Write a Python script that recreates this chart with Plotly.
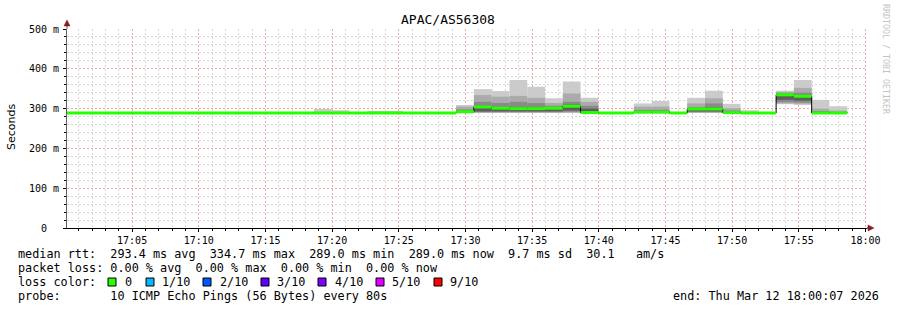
import plotly.graph_objects as go
from datetime import datetime, timedelta

# ---------------- data ----------------
title_text = "APAC/AS56308"
first_step = datetime(2026, 3, 12, 16, 59, 58)
step_seconds = 80
x_start = datetime(2026, 3, 12, 17, 0, 7)
x_end = datetime(2026, 3, 12, 18, 0, 7)

# median rtt per 80 s step (ms)
median = [289] * 22 + [292, 304, 301, 300, 300, 301, 306, 290, 289, 289, 291, 291, 289,
                       299, 299, 290, 289, 289, 334.7, 331, 289, 289]
# smoke envelope (sorted pings), outer -> inner
ping_max = [289] * 14 + [299, 296, 289, 293, 293, 289, 289, 289,
                         309, 349, 344, 372, 355, 326, 368, 327, 289, 289, 313, 319, 289,
                         327, 345, 312, 296, 289, 345, 372, 322, 306]
hi2 = [289] * 22 + [305, 334, 330, 332, 327, 314, 338, 317, 289, 289, 305, 305, 289,
                    313, 326, 301, 289, 289, 342, 352, 300, 295]
hi3 = [289] * 22 + [298, 317, 314, 317, 314, 307, 317, 307, 289, 289, 297, 297, 289,
                    303, 313, 295, 289, 289, 339, 340, 293, 291]
hi4 = [289] * 22 + [294, 306, 304, 304, 304, 303, 310, 300, 289, 289, 293, 293, 289,
                    302, 303, 292, 289, 289, 336, 333, 290, 290]
lo4 = [289] * 22 + [290, 293, 293, 293, 293, 293, 295, 289, 289, 289, 290, 290, 289,
                    293, 293, 289, 289, 289, 322, 320, 289, 289]
lo3 = [289] * 22 + [289, 291, 291, 291, 291, 291, 292, 289, 289, 289, 289, 289, 289,
                    291, 291, 289, 289, 289, 316, 315, 289, 289]
lo2 = [289] * 22 + [289, 290, 290, 290, 290, 290, 290, 289, 289, 289, 289, 289, 289,
                    290, 290, 289, 289, 289, 313, 312, 289, 289]
ping_min = [289] * 22 + [289] * 18 + [311, 309, 289, 289]

y_tick_vals = [0, 100, 200, 300, 400, 500]
y_tick_text = ["0\u00a0\u00a0", "100 m", "200 m", "300 m", "400 m", "500 m"]

stats_rows = [
    "median rtt:  293.4 ms avg  334.7 ms max  289.0 ms min  289.0 ms now  9.7 ms sd  30.1   am/s",
    "packet loss: 0.00 % avg  0.00 % max  0.00 % min  0.00 % now",
]
loss_labels = ["0", "1/10", "2/10", "3/10", "4/10", "5/10", "9/10"]
loss_colors = ["#26ff00", "#00b8ff", "#0059ff", "#5e00ff", "#7e00ff", "#dd00ff", "#ff0000"]
probe_text = "probe:       10 ICMP Echo Pings (56 Bytes) every 80s"
end_text = "end: Thu Mar 12 18:00:07 2026"

# ---------------- layout constants ----------------
W, H = 897, 310
L, R, T, B = 67, 30, 29, 82
PW, PH = W - L - R, H - T - B
MONO = "DejaVu Sans Mono"
LEG_SIZE = 11.8


def px(xp):
    return (xp - L) / PW


def py(yp):
    return (H - B - yp) / PH


def nb(s):
    return s.replace(" ", "\u00a0")


n = len(median)
starts = [first_step + timedelta(seconds=step_seconds * k) for k in range(n)]
centers = [s + timedelta(seconds=step_seconds / 2) for s in starts]
ends = [s + timedelta(seconds=step_seconds) for s in starts]

fig = go.Figure()

bands = [
    (ping_min, ping_max, "#cbcbcb"),
    (lo2, hi2, "#ababab"),
    (lo3, hi3, "#8a8a8a"),
    (lo4, hi4, "#5e5e5e"),
]
for lo, hi, col in bands:
    fig.add_trace(go.Bar(
        x=centers, base=lo, y=[h - l for h, l in zip(hi, lo)],
        width=step_seconds * 1000,
        marker=dict(color=col, line=dict(width=0)),
        hoverinfo="skip", showlegend=False,
    ))

# thin black median (step) line
bx, by = [], []
for s, e, m in zip(starts, ends, median):
    bx += [s, e]
    by += [m, m]
fig.add_trace(go.Scatter(x=bx, y=by, mode="lines", line=dict(color="#000000", width=1),
                         hoverinfo="skip", showlegend=False))

# loss-coloured median segments
gx, gy = [], []
for s, e, m in zip(starts, ends, median):
    gx += [s, e, None]
    gy += [m, m, None]
fig.add_trace(go.Scatter(x=gx, y=gy, mode="lines", line=dict(color="#26ff00", width=3),
                         hoverinfo="skip", showlegend=False))

# grid positions: minor every minute / 20 ms, excluding the major ones
hour0 = datetime(2026, 3, 12, 17, 0, 0)
x_minor = [hour0 + timedelta(minutes=i) for i in range(1, 61) if i % 5 != 0]
y_minor = [v for v in range(0, 501, 20) if v % 100 != 0]

major_col = "rgba(225,80,80,0.5)"
minor_col = "#d6d6d6"
gdash = "2px,2px"
fig.update_layout(
    width=W, height=H, margin=dict(l=L, r=R, t=T, b=B),
    paper_bgcolor="white", plot_bgcolor="white",
    barmode="overlay", showlegend=False,
    font=dict(family=MONO, size=10, color="#000000"),
)
fig.update_xaxes(
    type="date", range=[x_start, x_end], tickformat="%H:%M",
    tick0="2026-03-12 17:00:00", dtick=300000,
    showgrid=True, gridcolor=major_col, griddash=gdash, gridwidth=1,
    showline=True, linecolor="#000000", linewidth=1,
    ticks="outside", ticklen=3, tickcolor="#000000",
    tickfont=dict(family=MONO, size=10, color="#000000"),
    minor=dict(tickmode="array", tickvals=x_minor, showgrid=True,
               gridcolor=minor_col, griddash=gdash, ticks="outside", ticklen=2,
               tickcolor="#000000"),
    zeroline=False, fixedrange=True,
)
fig.update_yaxes(
    range=[0, 500], tickmode="array", tickvals=y_tick_vals, ticktext=y_tick_text,
    showgrid=True, gridcolor=major_col, griddash=gdash, gridwidth=1,
    showline=True, linecolor="#606060", linewidth=1,
    ticks="outside", ticklen=3, tickcolor="#000000",
    tickfont=dict(family=MONO, size=10, color="#000000"),
    minor=dict(tickmode="array", tickvals=y_minor, showgrid=True, gridcolor=minor_col,
               griddash=gdash, ticks="outside", ticklen=2, tickcolor="#000000"),
    zeroline=False, fixedrange=True, ticklabelstandoff=2,
)

ann = []
ann.append(dict(text=title_text, x=px(448), y=py(20), xref="paper", yref="paper",
                showarrow=False, xanchor="center", yanchor="middle",
                font=dict(family=MONO, size=13, color="#000000")))
ann.append(dict(text="Seconds", x=px(11), y=py(127), xref="paper", yref="paper",
                showarrow=False, textangle=-90, xanchor="center", yanchor="middle",
                font=dict(family="DejaVu Sans", size=11, color="#000000")))
ann.append(dict(text=nb("RRDTOOL / TOBI OETIKER"), x=px(886), y=py(59), xref="paper", yref="paper",
                showarrow=False, textangle=90, xanchor="center", yanchor="middle",
                font=dict(family=MONO, size=8.3, color="#c4c4c4")))
row_y = [254, 268, 282, 296]
for i, row in enumerate(stats_rows):
    ann.append(dict(text=nb(row), x=px(16), y=py(row_y[i]), xref="paper", yref="paper",
                    showarrow=False, xanchor="left", yanchor="middle",
                    font=dict(family=MONO, size=LEG_SIZE, color="#000000")))
ann.append(dict(text=nb("loss color:"), x=px(16), y=py(row_y[2]), xref="paper", yref="paper",
                showarrow=False, xanchor="left", yanchor="middle",
                font=dict(family=MONO, size=LEG_SIZE, color="#000000")))
sq_x = [108, 146, 203, 261, 318, 376, 434]
lab_x = [123, 160, 218, 275, 333, 390, 448]
shapes = []
for sx, lx, lab, col in zip(sq_x, lab_x, loss_labels, loss_colors):
    shapes.append(dict(type="rect", xref="paper", yref="paper",
                       x0=px(sx), x1=px(sx + 8), y0=py(row_y[2] + 4), y1=py(row_y[2] - 4),
                       fillcolor=col, line=dict(color="#000000", width=1)))
    ann.append(dict(text=lab, x=px(lx), y=py(row_y[2]), xref="paper", yref="paper",
                    showarrow=False, xanchor="left", yanchor="middle",
                    font=dict(family=MONO, size=LEG_SIZE, color="#000000")))
ann.append(dict(text=nb(probe_text), x=px(16), y=py(row_y[3]), xref="paper", yref="paper",
                showarrow=False, xanchor="left", yanchor="middle",
                font=dict(family=MONO, size=LEG_SIZE, color="#000000")))
ann.append(dict(text=nb(end_text), x=px(881), y=py(row_y[3]), xref="paper", yref="paper",
                showarrow=False, xanchor="right", yanchor="middle",
                font=dict(family=MONO, size=LEG_SIZE, color="#000000")))

# axis arrows
arrow_col = "#8b1a1a"
shapes.append(dict(type="line", xref="paper", yref="paper", x0=px(67), x1=px(67),
                   y0=1, y1=py(24), line=dict(color="#606060", width=1)))
shapes.append(dict(type="path", xref="paper", yref="paper",
                   path=f"M {px(64)},{py(26)} L {px(70)},{py(26)} L {px(67)},{py(20)} Z",
                   fillcolor=arrow_col, line=dict(color=arrow_col, width=0.5)))
shapes.append(dict(type="line", xref="paper", yref="paper", x0=1, x1=px(870),
                   y0=0, y1=0, line=dict(color="#000000", width=1)))
shapes.append(dict(type="path", xref="paper", yref="paper",
                   path=f"M {px(868)},{py(225)} L {px(868)},{py(231)} L {px(874)},{py(228)} Z",
                   fillcolor=arrow_col, line=dict(color=arrow_col, width=0.5)))

fig.update_layout(annotations=ann, shapes=shapes)
fig.write_html("out.html")
